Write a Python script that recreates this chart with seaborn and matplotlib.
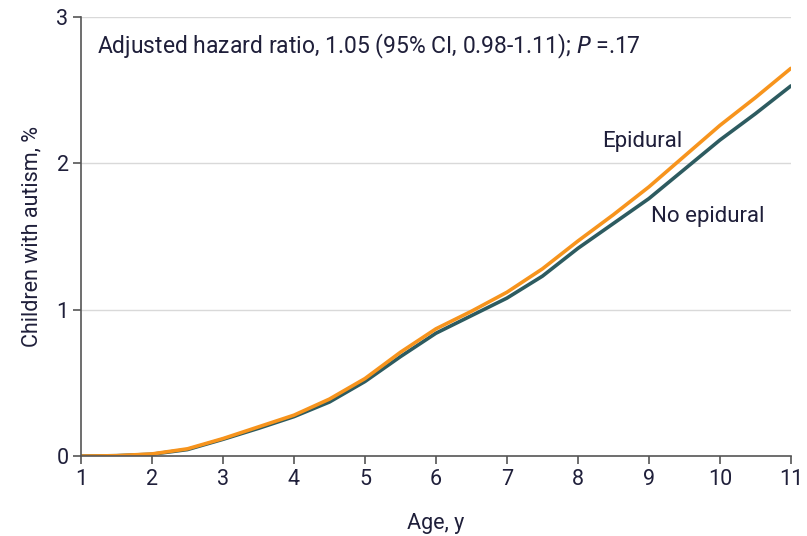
import matplotlib
matplotlib.use("Agg")
import matplotlib.pyplot as plt
import seaborn as sns
import pandas as pd

age = [1, 1.5, 2, 2.5, 3, 3.5, 4, 4.5, 5, 5.5, 6, 6.5, 7, 7.5, 8, 8.5, 9, 9.5, 10, 10.5, 11]
epidural = [0, 0.003, 0.015, 0.05, 0.12, 0.2, 0.28, 0.39, 0.53, 0.71, 0.87, 0.99, 1.12, 1.28,
            1.47, 1.65, 1.84, 2.05, 2.26, 2.45, 2.65]
no_epidural = [0, 0.003, 0.013, 0.045, 0.115, 0.19, 0.27, 0.37, 0.51, 0.68, 0.84, 0.96, 1.08,
               1.23, 1.42, 1.59, 1.76, 1.96, 2.16, 2.34, 2.53]
x_ticks = [1, 2, 3, 4, 5, 6, 7, 8, 9, 10, 11]
y_ticks = [0, 1, 2, 3]

df = pd.DataFrame({
    "age": age * 2,
    "pct": no_epidural + epidural,
    "group": ["No epidural"] * len(age) + ["Epidural"] * len(age),
})

sns.set_style("white")
plt.rcParams["font.family"] = ["Roboto", "DejaVu Sans"]
text_color = "#1f1f3a"

fig = plt.figure(figsize=(8.07, 5.36), dpi=100)
ax = fig.add_axes([0.1004, 0.149, 0.8796, 0.819])

palette = {"No epidural": "#2d5b60", "Epidural": "#f7941d"}
sns.lineplot(data=df, x="age", y="pct", hue="group", palette=palette, linewidth=2.6,
             ax=ax, legend=False, hue_order=["No epidural", "Epidural"])

ax.set_xlim(1, 11)
ax.set_ylim(0, 3)
ax.set_xticks(x_ticks)
ax.set_yticks(y_ticks)
for y in y_ticks[1:]:
    ax.axhline(y, color="#d9d9d9", linewidth=1, zorder=0)

for s in ["top", "right"]:
    ax.spines[s].set_visible(False)
for s in ["left", "bottom"]:
    ax.spines[s].set_color("#555555")
    ax.spines[s].set_linewidth(1.2)
ax.tick_params(axis="both", direction="out", length=6, width=1.2, color="#555555",
               labelsize=15.5, labelcolor=text_color, pad=3, bottom=True, left=True)

ax.set_xlabel("Age, y", fontsize=15.5, color=text_color, labelpad=17)
ax.set_ylabel("Children with autism, %", fontsize=15.5, color=text_color, labelpad=10)

ax.text(1.225, 2.80, "Adjusted hazard ratio, 1.05 (95% CI, 0.98-1.11); $\\mathit{P}$ =.17",
        fontsize=16.5, color=text_color, va="center", ha="left")
ax.text(8.34, 2.15, "Epidural", fontsize=16, color=text_color, va="center", ha="left")
ax.text(9.03, 1.64, "No epidural", fontsize=16, color=text_color, va="center", ha="left")

fig.savefig("out.png", dpi=100)
